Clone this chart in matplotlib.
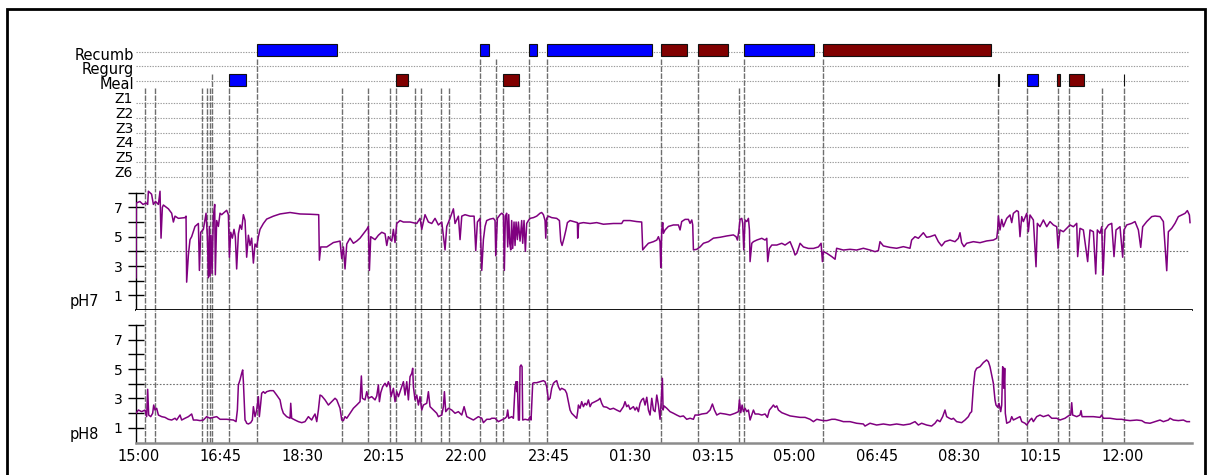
import numpy as np
import matplotlib
matplotlib.use('Agg')
import matplotlib.pyplot as plt
from matplotlib.patches import Rectangle

plt.rcParams['font.family'] = ['DejaVu Sans']

# --- data -------------------------------------------------------------------
# all times are minutes after 15:00 on the first day
tick_minutes = [0, 105, 210, 315, 420, 525, 630, 735, 840, 945, 1050, 1155, 1260]
tick_labels = ['15:00', '16:45', '18:30', '20:15', '22:00', '23:45', '01:30',
               '03:15', '05:00', '06:45', '08:30', '10:15', '12:00']

row_names = ['Recumb', 'Regurg', 'Meal', 'Z1', 'Z2', 'Z3', 'Z4', 'Z5', 'Z6']

# body position periods (kind 0 / kind 1)
recumb_start = [151.9, 437.3, 500.1, 522.7, 668.6, 716.0, 775.6, 876.0]
recumb_end = [254.9, 448.5, 510.3, 657.9, 701.9, 755.2, 865.2, 1091.0]
recumb_kind = [0, 0, 0, 0, 1, 1, 0, 1]

# meal periods (kind 2 = short marker)
meal_start = [116.5, 329.5, 467.2, 1100.2, 1137.1, 1176.4, 1191.6, 1261.0]
meal_end = [138.2, 345.6, 487.3, 1101.4, 1151.6, 1179.7, 1210.0, 1262.2]
meal_kind = [0, 1, 1, 2, 0, 1, 1, 2]

# event markers and the row each one hangs from
event_times = [8.2, 21.0, 81.1, 87.5, 91.8, 94.0, 116.5, 151.9, 261.1, 294.0,
               321.9, 329.5, 353.8, 362.2, 387.4, 398.1, 437.3, 457.4, 467.2,
               500.1, 522.7, 668.6, 716.0, 768.8, 775.6, 876.0, 1100.2, 1137.1,
               1177.2, 1191.6, 1233.1, 1261.0]
event_rows = ['Meal', 'Meal', 'Meal', 'Meal', 'Meal', 'Regurg', 'Meal', 'Recumb',
              'Meal', 'Meal', 'Meal', 'Meal', 'Meal', 'Meal', 'Meal', 'Meal',
              'Recumb', 'Recumb', 'Meal', 'Recumb', 'Recumb', 'Recumb', 'Recumb',
              'Meal', 'Recumb', 'Recumb', 'Meal', 'Meal', 'Meal', 'Meal', 'Meal',
              'Meal']

ph7 = [
    (-2.9, 2.2), (-2.5, 7.3), (2, 7.4), (6, 7.2), (10, 7.3), (12, 7.2), (12.9, 8.1),
    (17, 7.9), (19.3, 7.2), (22, 7.4), (25.7, 7.2), (27.8, 8.1), (29.1, 4.9),
    (30.8, 7.0), (32.1, 7.16), (38.5, 6.9), (42.7, 6.6), (44.9, 6.0), (47, 6.4),
    (51.3, 6.25), (59.8, 6.3), (61.1, 6.4), (61.9, 1.9), (64.1, 3.75), (66.2, 4.8),
    (68.3, 5.0), (72.6, 5.7), (76.9, 5.9), (78.2, 2.7), (79.9, 5.3), (83.3, 5.5),
    (86.7, 6.6), (88.4, 5.0), (89.7, 2.2), (91.0, 5.7), (91.8, 2.3), (93.1, 5.1),
    (94.4, 2.5), (96.1, 6.4), (97.8, 7.2), (98.6, 2.4), (100.3, 6.1), (102.5, 5.7),
    (104.6, 6.6), (106.7, 6.5), (111, 6.7), (113.1, 6.8), (115.3, 6.5), (116.6, 3.6),
    (118.3, 5.3), (120.4, 4.9), (122.5, 5.5), (124.2, 5.0), (125.9, 2.8), (128.1, 5.2),
    (130.2, 5.8), (132.3, 5.5), (134.5, 6.5), (136.6, 6.1), (138.7, 3.6), (140.9, 5.1),
    (143, 4.4), (145.1, 4.9), (147.3, 3.2), (149.4, 4.5), (151.5, 4.3), (153.7, 5.0),
    (155.8, 5.5), (160.1, 5.9), (164.3, 6.2), (172.9, 6.4), (181.4, 6.55),
    (194.2, 6.65), (207, 6.55), (219.8, 6.53), (230.9, 6.5), (231.8, 3.4),
    (233.5, 4.3), (241.2, 4.3), (249.7, 4.6), (258.2, 4.7), (260.4, 3.5), (262.5, 4.3),
    (264.6, 2.8), (266.8, 4.5), (271, 4.9), (275.3, 4.55), (279.6, 4.7), (283.8, 4.9),
    (288.1, 5.2), (292.4, 5.5), (294.5, 5.7), (295.8, 2.7), (297.5, 5.0), (303, 4.8),
    (307.3, 5.1), (311.6, 5.3), (315.8, 5.2), (318, 4.4), (320.1, 5.0), (324.4, 4.7),
    (326.5, 5.5), (328.6, 4.6), (330.8, 5.9), (335, 6.1), (339.3, 6.0), (347.8, 6.0),
    (356.4, 5.9), (360.6, 6.25), (362.8, 5.5), (367, 6.5), (371.3, 6.0), (375.6, 5.9),
    (379.8, 6.25), (384.1, 5.8), (388.4, 6.0), (392.6, 4.1), (394.8, 5.7),
    (399, 6.25), (403.3, 6.9), (405.4, 5.9), (409.7, 6.4), (411.8, 4.8), (414, 6.4),
    (418.2, 6.5), (424.6, 6.4), (429.8, 6.4), (431.9, 4.05), (434, 6.0),
    (437.4, 6.25), (439.6, 2.7), (441.7, 4.8), (443.8, 5.7), (445.9, 6.1),
    (450.2, 6.2), (454.5, 6.25), (456.6, 6.1), (457.5, 3.7), (459.6, 6.25),
    (463, 6.5), (465.1, 6.6), (467.3, 6.5), (468.5, 2.7), (469.8, 6.4), (471.5, 6.6),
    (472.8, 4.3), (474.1, 6.5), (475.4, 4.55), (476.7, 4.1), (477.9, 6.1),
    (479.2, 4.2), (480.9, 6.0), (482.2, 4.4), (483.5, 6.0), (485.2, 4.8), (486.5, 6.0),
    (488.6, 4.7), (490.7, 6.1), (492, 4.55), (493.7, 6.1), (495.4, 4.0), (497.1, 5.9),
    (499.3, 6.1), (501.4, 6.25), (505.7, 6.3), (509.9, 6.4), (514.2, 6.6),
    (516.3, 6.65), (518.5, 6.5), (520.6, 6.1), (521.5, 4.9), (522.7, 6.25),
    (524.9, 6.4), (529.1, 6.3), (535.5, 6.25), (539, 6.1), (540.7, 4.7), (542.4, 4.4),
    (544.9, 4.9), (547.5, 5.5), (549.2, 5.96), (552.6, 6.1), (559, 6.0), (562, 5.96),
    (562.4, 4.9), (563.7, 5.9), (569.7, 5.96), (578.2, 5.9), (586.7, 5.96),
    (595.3, 5.85), (608.1, 5.9), (618.7, 5.9), (620.9, 6.1), (629.4, 6.1),
    (637.9, 6.03), (644.3, 6.0), (645.6, 4.1), (648.6, 4.3), (652.9, 4.55),
    (659.3, 4.66), (663.6, 4.77), (665.7, 5.0), (667.8, 4.66), (668.7, 2.9),
    (670, 5.46), (671.2, 5.96), (672.1, 5.23), (674.2, 5.46), (678.5, 5.7),
    (684.9, 5.8), (691.3, 5.8), (693.4, 5.46), (695.5, 6.03), (699.8, 6.18),
    (704.1, 6.18), (706.2, 5.91), (708.4, 6.14), (709.6, 5.8), (710.5, 4.1),
    (714.8, 4.14), (719, 4.3), (723.3, 4.55), (729.7, 4.66), (736.1, 4.9),
    (744.6, 4.96), (753.2, 5.05), (761.7, 5.12), (765.1, 5.0), (766.8, 4.77),
    (768.5, 5.34), (770.2, 6.18), (772.4, 6.25), (773.6, 5.9), (774.9, 4.1),
    (776.6, 6.14), (778.8, 6.03), (780.9, 6.25), (782.2, 5.46), (783, 3.3),
    (785.2, 4.55), (787.3, 4.66), (791.6, 4.77), (798, 4.89), (802.2, 4.77),
    (804.4, 4.89), (805.6, 3.3), (807.8, 4.2), (810.8, 4.43), (817.2, 4.43),
    (823.6, 4.55), (827.8, 4.43), (834.2, 4.66), (838.5, 4.1), (840.6, 3.75),
    (842.8, 3.87), (847, 4.55), (851.3, 4.3), (857.7, 4.2), (864.1, 4.2),
    (870.5, 4.3), (873.9, 4.55), (875.6, 3.3), (876.9, 3.98), (881.2, 3.87),
    (887.6, 3.64), (891.8, 3.46), (893.8, 4.21), (902.4, 4.09), (910.9, 4.14),
    (919.4, 4.09), (928, 4.21), (936.5, 4.09), (942.9, 3.98), (947.2, 4.05),
    (949.3, 4.66), (953.6, 4.37), (962.1, 4.27), (970.6, 4.21), (979.2, 4.32),
    (987.7, 4.21), (989.8, 4.77), (994.1, 5.0), (998.4, 4.89), (1004.8, 5.27),
    (1009, 4.96), (1013.3, 5.0), (1019.7, 5.12), (1024, 4.66), (1028.2, 4.37),
    (1032.5, 4.66), (1038.9, 4.77), (1045.3, 4.66), (1049.6, 4.89), (1051.7, 5.27),
    (1053.8, 4.59), (1056.8, 4.32), (1060.2, 4.55), (1068.8, 4.66), (1077.3, 4.59),
    (1085.8, 4.71), (1094.4, 4.77), (1098.7, 4.89), (1099.9, 5.46), (1100.8, 6.41),
    (1102.9, 5.46), (1105.1, 6.18), (1107.2, 5.68), (1111.5, 6.25), (1115.7, 6.48),
    (1117.9, 5.96), (1120, 6.59), (1124.3, 6.78), (1126.4, 6.71), (1128.5, 5.0),
    (1130.7, 6.37), (1132.8, 6.03), (1137.1, 6.59), (1139.2, 5.34), (1141.3, 6.48),
    (1145.6, 6.14), (1149, 2.95), (1150.7, 5.91), (1154.1, 5.68), (1158.4, 6.14),
    (1162.7, 5.68), (1166.9, 6.03), (1171.2, 5.80), (1175.5, 5.68), (1177.2, 4.21),
    (1179.7, 5.46), (1184, 5.34), (1188.3, 5.57), (1192.5, 5.80), (1196.8, 5.68),
    (1201.1, 5.91), (1202.3, 3.64), (1205.3, 5.57), (1209.6, 5.46), (1215.1, 3.30),
    (1218.1, 5.46), (1222.4, 5.34), (1225.4, 2.46), (1227.5, 5.46), (1230.9, 5.23),
    (1233.1, 5.68), (1234.8, 2.39), (1237.3, 5.46), (1241.6, 5.80), (1245.9, 5.91),
    (1248.8, 3.64), (1251.4, 5.46), (1256.5, 5.68), (1259.9, 3.60), (1261.6, 5.46),
    (1265.1, 5.80), (1271.5, 5.91), (1275.7, 6.03), (1280, 5.46), (1283, 4.27),
    (1285.5, 5.68), (1290.7, 6.03), (1297.1, 6.37), (1301.3, 6.41), (1307.7, 6.37),
    (1312, 6.03), (1316.3, 2.68), (1318.4, 5.34), (1322.7, 5.57), (1326.9, 5.91),
    (1331.2, 6.37), (1335.5, 6.48), (1339.7, 6.59), (1342.7, 6.78), (1345.3, 6.48),
    (1346.1, 5.96),
]

ph8 = [
    (-2.9, 1.99), (0.1, 2.21), (4.3, 2.10), (8.6, 2.21), (10.7, 1.76), (12.0, 3.62),
    (13.3, 1.87), (15.9, 1.76), (18.4, 1.99), (19.7, 2.55), (21.4, 2.21), (23.5, 2.33),
    (25.7, 1.87), (29.9, 1.76), (34.2, 1.71), (38.5, 1.58), (42.7, 1.53), (47, 1.65),
    (49.1, 1.53), (53.4, 1.87), (55.5, 1.53), (59.8, 1.65), (64.1, 1.76), (68.3, 1.94),
    (70.5, 1.53), (74.7, 1.53), (79, 1.49), (83.3, 1.53), (87.5, 1.76), (91.8, 1.65),
    (96.1, 1.71), (100.3, 1.76), (104.6, 1.58), (113.1, 1.58), (121.7, 1.53),
    (125.1, 1.42), (126.8, 2.21), (128.1, 3.92), (130.2, 4.26), (132.3, 4.71),
    (133.6, 4.94), (134.5, 4.14), (136.6, 1.53), (137.9, 1.42), (138.7, 1.31),
    (140.9, 1.26), (143.9, 1.35), (146, 1.53), (147.3, 2.44), (149.4, 1.76),
    (151.5, 2.21), (153.7, 3.12), (154.9, 1.76), (156.7, 2.67), (157.9, 3.35),
    (160.1, 3.46), (162.2, 3.35), (164.3, 3.46), (168.6, 3.53), (172.9, 3.53),
    (177.1, 3.23), (181.4, 2.90), (183.5, 2.33), (185.7, 1.99), (189.9, 1.76),
    (194.2, 1.65), (195.1, 2.67), (196.3, 1.65), (200.6, 1.53), (204.9, 1.42),
    (209.2, 1.35), (213.4, 1.42), (217.7, 1.76), (221.9, 1.53), (224.1, 1.76),
    (226.2, 1.94), (228.4, 1.42), (230.5, 2.21), (232.6, 3.23), (234.8, 3.17),
    (239, 2.90), (243.3, 2.55), (247.6, 2.78), (251.8, 3.01), (254, 2.90),
    (258.2, 2.33), (260.4, 1.53), (262.5, 1.49), (264.6, 1.76), (266.8, 1.65),
    (271, 1.99), (275.3, 2.33), (279.6, 2.55), (283.8, 2.78), (285.5, 4.53),
    (286.8, 3.01), (290.2, 2.90), (292.4, 3.46), (294.5, 3.01), (298.8, 3.12),
    (303, 2.90), (305.2, 3.17), (307.3, 3.92), (308.6, 2.78), (310.3, 3.39),
    (312.8, 3.80), (315.8, 4.03), (318, 3.80), (320.1, 4.14), (322.2, 3.80),
    (323.5, 3.12), (326.5, 3.69), (328.6, 2.78), (330.8, 3.46), (332.9, 3.12),
    (335, 3.46), (337.2, 3.80), (339.3, 4.14), (341.4, 3.23), (343.6, 4.14),
    (345.7, 2.90), (347.8, 4.48), (350, 4.71), (351.2, 5.05), (352.1, 3.80),
    (354.2, 2.90), (356.4, 3.23), (358.5, 2.55), (360.6, 3.12), (362.8, 2.21),
    (364.9, 2.55), (369.2, 2.67), (371.3, 3.46), (373.4, 2.44), (377.7, 2.21),
    (382, 1.99), (384.1, 1.76), (388.4, 1.87), (390.5, 2.44), (391.8, 3.46),
    (393.5, 2.10), (396.9, 2.33), (401.2, 2.21), (405.4, 1.99), (409.7, 2.10),
    (414, 1.87), (417, 2.44), (420.4, 1.76), (424.6, 1.65), (428.9, 1.53),
    (435.3, 1.76), (439.6, 1.65), (441.7, 1.35), (446, 1.58), (450.2, 1.58),
    (452.3, 1.65), (456.6, 1.65), (460.9, 1.42), (465.1, 1.53), (469.4, 1.65),
    (471.5, 1.76), (472.8, 2.21), (474.1, 1.65), (477.9, 1.76), (480.1, 1.65),
    (482.2, 3.80), (483.5, 4.14), (484.3, 3.46), (485.2, 4.14), (486.5, 1.53),
    (487.8, 1.53), (488.6, 5.16), (489.9, 5.28), (491.2, 5.16), (492, 1.53),
    (495, 1.58), (499.3, 1.53), (501.4, 1.76), (502.7, 1.53), (504.8, 4.03),
    (506.5, 4.07), (509.9, 4.07), (514.2, 4.14), (518.5, 4.21), (520.6, 4.14),
    (522.7, 3.80), (524.9, 2.90), (527, 3.01), (529.1, 3.69), (531.3, 4.03),
    (533.4, 4.14), (535.5, 4.21), (537.7, 3.80), (539.8, 3.57), (541.9, 3.69),
    (546.2, 3.57), (548.3, 3.35), (550.5, 2.78), (552.6, 2.21), (554.7, 1.99),
    (559, 1.76), (561.1, 1.65), (562.4, 2.10), (563.3, 2.55), (565.4, 2.33),
    (567.5, 2.78), (569.7, 2.44), (571.8, 2.67), (573.9, 2.55), (576.1, 2.90),
    (578.2, 2.44), (580.3, 2.67), (584.6, 2.78), (588.9, 2.90), (591, 3.01),
    (593.1, 2.67), (595.3, 2.44), (599.5, 2.40), (603.8, 2.26), (608.1, 2.33),
    (612.3, 2.21), (616.6, 2.10), (618.7, 2.26), (620.9, 2.44), (623, 2.78),
    (625.1, 2.44), (627.3, 2.55), (629.4, 2.26), (633.7, 2.44), (635.8, 2.21),
    (637.9, 2.40), (640.1, 2.10), (642.2, 2.67), (644.3, 2.90), (646.5, 3.01),
    (648.6, 2.55), (650.8, 3.08), (652.9, 2.21), (655, 1.87), (657.2, 3.01),
    (659.3, 2.21), (661.4, 2.10), (663.6, 3.23), (665.7, 2.55), (667.8, 1.58),
    (669.1, 2.67), (670.8, 4.37), (671.7, 2.21), (672.9, 2.49), (676.4, 2.33),
    (680.6, 2.10), (684.9, 1.99), (689.1, 1.87), (693.4, 1.76), (697.7, 1.81),
    (701.9, 1.58), (706.2, 1.65), (710.5, 1.58), (712.6, 1.87), (716.9, 1.87),
    (721.2, 1.94), (727.6, 1.99), (731.8, 2.21), (734.8, 2.62), (737.4, 2.21),
    (740.4, 1.87), (744.6, 1.99), (751, 1.94), (757.4, 1.87), (763.8, 1.99),
    (768.1, 2.10), (769.4, 2.90), (771.1, 2.03), (772.8, 2.55), (774.5, 2.10),
    (776.6, 2.33), (778.8, 2.10), (780.9, 2.21), (783, 1.53), (785.2, 1.87),
    (787.3, 2.21), (789.4, 1.94), (793.7, 1.94), (798, 1.87), (802.2, 1.94),
    (805.2, 1.71), (807.8, 2.21), (810.8, 2.40), (812.9, 2.55), (815, 2.40),
    (817.2, 2.49), (819.3, 2.21), (823.6, 2.03), (827.8, 1.94), (834.2, 1.81),
    (840.6, 1.76), (847, 1.71), (853.4, 1.71), (859.8, 1.58), (864.1, 1.42),
    (868.4, 1.58), (872.6, 1.53), (876.9, 1.49), (881.2, 1.49), (887.6, 1.58),
    (891.8, 1.58), (898.2, 1.49), (902.4, 1.42), (910.9, 1.42), (919.4, 1.31),
    (928, 1.26), (930.1, 1.12), (936.5, 1.31), (945, 1.19), (953.6, 1.26),
    (962.1, 1.19), (970.6, 1.26), (979.2, 1.19), (987.7, 1.26), (994.1, 1.42),
    (998.4, 1.19), (1002.6, 1.31), (1009, 1.19), (1015.4, 1.12), (1019.7, 1.31),
    (1022.7, 1.53), (1026.1, 1.42), (1029.5, 1.76), (1032.5, 2.21), (1034.6, 1.76),
    (1038.1, 1.65), (1041, 1.58), (1043.2, 1.65), (1047.4, 1.42), (1053.8, 1.35),
    (1058.1, 1.53), (1062.4, 1.76), (1064.5, 1.99), (1066.6, 2.10), (1068.8, 3.80),
    (1070.9, 4.82), (1073, 5.05), (1077.3, 5.16), (1081.6, 5.44), (1085.8, 5.62),
    (1088, 5.50), (1090.1, 5.16), (1092.2, 4.60), (1094.4, 4.03), (1096.5, 2.90),
    (1097.8, 2.55), (1099.9, 2.40), (1101.6, 2.67), (1103.8, 2.10), (1105.1, 2.55),
    (1106.3, 5.16), (1107.2, 4.94), (1108, 3.69), (1108.9, 5.05), (1109.7, 1.99),
    (1111.5, 1.31), (1115.7, 1.42), (1117.9, 1.76), (1120, 1.53), (1124.3, 1.65),
    (1128.5, 1.76), (1130.7, 1.42), (1134.9, 1.31), (1137.1, 1.19), (1141.3, 1.53),
    (1143.5, 1.65), (1145.6, 1.42), (1149.9, 1.76), (1154.1, 1.87), (1158.4, 1.76),
    (1164.8, 1.87), (1169.1, 1.65), (1175.5, 1.65), (1179.7, 1.53), (1186.1, 1.65),
    (1190.4, 1.81), (1193.4, 1.87), (1194.7, 2.71), (1195.9, 1.87), (1201.1, 1.76),
    (1205.3, 1.87), (1206.6, 2.17), (1207.9, 1.76), (1213.9, 1.76), (1222.4, 1.76),
    (1230.9, 1.71), (1233.1, 1.87), (1235.2, 1.65), (1243.7, 1.65), (1252.3, 1.58),
    (1258.7, 1.58), (1262.9, 1.53), (1269.3, 1.49), (1277.9, 1.53), (1284.3, 1.49),
    (1288.5, 1.35), (1294.9, 1.31), (1301.3, 1.42), (1307.7, 1.53), (1312, 1.42),
    (1318.4, 1.53), (1320.5, 1.65), (1324.8, 1.53), (1331.2, 1.49), (1337.6, 1.53),
    (1341.9, 1.42), (1345.3, 1.42),
]

# --- layout -------------------------------------------------------------------
W, H = 1209, 475
fig = plt.figure(figsize=(W / 100, H / 100), dpi=100)


def px_box(left, top, right, bottom):
    return [left / W, 1 - bottom / H, (right - left) / W, (bottom - top) / H]


x_lo, x_hi = -2.94, 1348.0
line_end = 1343.5
trace_color = '#800080'
event_color = '#6e6e6e'
bar_colors = {0: '#0000ff', 1: '#800000', 2: '#000000'}

row_y = {'Recumb': 0, 'Regurg': 1, 'Meal': 2, 'Z1': 3.5, 'Z2': 4.5, 'Z3': 5.5,
         'Z4': 6.5, 'Z5': 7.5, 'Z6': 8.5}
ev_bottom = 9.29

ax_ev = fig.add_axes(px_box(136, 40, 1191.5, 188.3))
ax7 = fig.add_axes(px_box(136, 188.3, 1191.5, 310))
ax8 = fig.add_axes(px_box(136, 310, 1191.5, 442.5))

# --- event rows -------------------------------------------------------------
ax_ev.set_xlim(x_lo, x_hi)
ax_ev.set_ylim(ev_bottom, -0.796)
ax_ev.axis('off')
ax_ev.hlines([row_y[r] for r in row_names], x_lo, line_end, colors='#9a9a9a',
             linestyles=(0, (1.2, 1.2)), lw=0.8, zorder=1)

for name in row_names:
    if name.startswith('Z'):
        ax_ev.annotate(name, xy=(0, row_y[name]), xycoords=('axes fraction', 'data'),
                       xytext=(-2, 0), textcoords='offset points',
                       ha='right', va='baseline', fontsize=10)
    else:
        ax_ev.annotate(name, xy=(0, row_y[name]), xycoords=('axes fraction', 'data'),
                       xytext=(-1.5, -2.5), textcoords='offset points',
                       ha='right', va='center', fontsize=10.5)

ax_ev.barh(row_y['Recumb'] - 0.14, np.subtract(recumb_end, recumb_start),
           left=recumb_start, height=0.82,
           color=[bar_colors[k] for k in recumb_kind],
           edgecolor='#111111', lw=0.8, zorder=3)
ax_ev.barh(row_y['Meal'] - 0.1, np.subtract(meal_end, meal_start),
           left=meal_start, height=0.82,
           color=[bar_colors[k] for k in meal_kind],
           edgecolor='#111111', lw=0.8, zorder=3)

ax_ev.vlines(event_times, [row_y[r] + 0.5 for r in event_rows], ev_bottom,
             colors=event_color, linestyles=(0, (4, 1)), lw=1.0, zorder=2)

# --- pH panels ------------------------------------------------------------
for ax, trace, top, label, edge in [(ax7, ph7, 8.3, 'pH7', ('black', 1.3)),
                                     (ax8, ph8, 9.02, 'pH8', ('#8c8c8c', 1.8))]:
    t, v = np.array(trace).T
    ax.set_xlim(x_lo, x_hi)
    ax.set_ylim(0, top)
    ax.vlines(event_times, 0, top, colors=event_color,
              linestyles=(0, (4, 1)), lw=1.0, zorder=2)
    ax.hlines(4, x_lo, line_end, colors='#707070',
              linestyles=(0, (1.5, 1.5)), lw=0.8, zorder=1)
    ax.plot(t, v, color=trace_color, lw=1.1, zorder=4)

    for side in ['top', 'right']:
        ax.spines[side].set_visible(False)
    ax.spines['left'].set_bounds(0, 8)
    ax.spines['left'].set_linewidth(1.0)
    ax.spines['bottom'].set_color(edge[0])
    ax.spines['bottom'].set_linewidth(edge[1])

    ax.set_yticks([1, 3, 5, 7])
    ax.set_yticks([2, 4, 6, 8], minor=True)
    ax.tick_params(axis='y', which='both', direction='inout', length=11,
                   width=1.0, pad=4, labelsize=10)
    ax.annotate(label, xy=(0, 0.55), xycoords=('axes fraction', 'data'),
                xytext=(-37, 0), textcoords='offset points',
                ha='center', va='center', fontsize=10.5)

ax7.set_xticks([])
ax8.set_xticks(tick_minutes, tick_labels)
ax8.tick_params(axis='x', length=0, pad=5, labelsize=10.5)

# outer frame
fig.add_artist(Rectangle((7 / W, -0.05), (1205 - 7) / W, 1.05 - 9 / H,
                         transform=fig.transFigure, fill=False, lw=2,
                         ec='black'))

fig.savefig('out.png', dpi=100)
